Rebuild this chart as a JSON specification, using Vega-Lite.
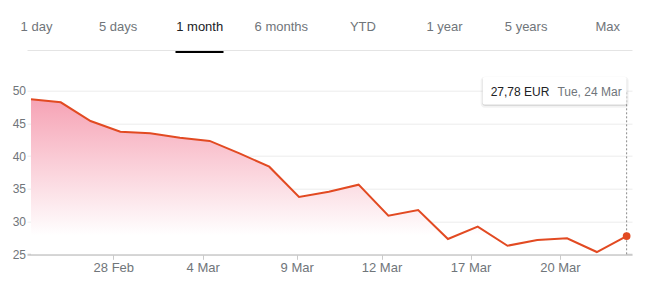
{
  "$schema": "https://vega.github.io/schema/vega-lite/v6.json",
  "width": 605,
  "height": 163.6,
  "autosize": {"type": "none"},
  "padding": {"left": 27, "top": 90.7, "right": 14, "bottom": 35.7},
  "background": "white",
  "config": {
    "view": {"stroke": null},
    "font": "Liberation Sans",
    "axisY": {"labelOverlap": false, "labelBound": false},
    "locale": {
      "number": {"decimal": ",", "thousands": ".", "grouping": [3], "currency": ["", " EUR"]},
      "time": {
        "dateTime": "%a %b %e %X %Y", "date": "%d/%m/%Y", "time": "%H:%M:%S",
        "periods": ["AM", "PM"],
        "days": ["Sunday", "Monday", "Tuesday", "Wednesday", "Thursday", "Friday", "Saturday"],
        "shortDays": ["Sun", "Mon", "Tue", "Wed", "Thu", "Fri", "Sat"],
        "months": ["January", "February", "March", "April", "May", "June", "July", "August", "September", "October", "November", "December"],
        "shortMonths": ["Jan", "Feb", "Mar", "Apr", "May", "Jun", "Jul", "Aug", "Sep", "Oct", "Nov", "Dec"]
      }
    }
  },
  "datasets": {
    "prices": [
      {"date": "2020-02-25", "day": 0, "close": 48.69},
      {"date": "2020-02-26", "day": 1, "close": 48.23},
      {"date": "2020-02-27", "day": 2, "close": 45.37},
      {"date": "2020-02-28", "day": 3, "close": 43.74},
      {"date": "2020-03-02", "day": 4, "close": 43.5},
      {"date": "2020-03-03", "day": 5, "close": 42.8},
      {"date": "2020-03-04", "day": 6, "close": 42.33},
      {"date": "2020-03-05", "day": 7, "close": 40.43},
      {"date": "2020-03-06", "day": 8, "close": 38.39},
      {"date": "2020-03-09", "day": 9, "close": 33.76},
      {"date": "2020-03-10", "day": 10, "close": 34.57},
      {"date": "2020-03-11", "day": 11, "close": 35.64},
      {"date": "2020-03-12", "day": 12, "close": 30.9},
      {"date": "2020-03-13", "day": 13, "close": 31.77},
      {"date": "2020-03-16", "day": 14, "close": 27.34},
      {"date": "2020-03-17", "day": 15, "close": 29.22},
      {"date": "2020-03-18", "day": 16, "close": 26.31},
      {"date": "2020-03-19", "day": 17, "close": 27.19},
      {"date": "2020-03-20", "day": 18, "close": 27.44},
      {"date": "2020-03-23", "day": 19, "close": 25.35},
      {"date": "2020-03-24", "day": 20, "close": 27.78}
    ],
    "tabs": [
      {"tab": "1 day"}, {"tab": "5 days"}, {"tab": "1 month"}, {"tab": "6 months"},
      {"tab": "YTD"}, {"tab": "1 year"}, {"tab": "5 years"}, {"tab": "Max"}
    ]
  },
  "layer": [
    {
      "data": {"name": "prices"},
      "encoding": {
        "x": {
          "field": "day",
          "type": "quantitative",
          "scale": {"domain": [-0.134, 20.18], "nice": false, "zero": false},
          "axis": {
            "values": [2.765, 5.765, 8.92, 11.77, 14.76, 17.76],
            "labelExpr": "datum.value < 4 ? '28 Feb' : datum.value < 7 ? '4 Mar' : datum.value < 10 ? '9 Mar' : datum.value < 13 ? '12 Mar' : datum.value < 16 ? '17 Mar' : '20 Mar'",
            "grid": false,
            "title": null,
            "domainColor": "#cacaca",
            "domainWidth": 2,
            "tickColor": "#cacaca",
            "tickSize": 5,
            "labelColor": "#70757a",
            "labelFontSize": 13,
            "labelPadding": 2,
            "labelFlush": false,
            "labelOverlap": false
          }
        },
        "y": {
          "field": "close",
          "type": "quantitative",
          "scale": {"domain": [25, 50], "nice": false, "zero": false},
          "axis": {
            "values": [25, 30, 35, 40, 45, 50],
            "tickCount": 6,
            "grid": true,
            "gridColor": "#ececec",
            "domain": false,
            "ticks": false,
            "title": null,
            "labelPadding": 1.5,
            "labelColor": "#70757a",
            "labelFontSize": 12,
            "labelOverlap": false,
            "labelBound": false
          }
        }
      },
      "layer": [
        {
          "mark": {
            "type": "area",
            "fill": {
              "gradient": "linear",
              "x1": 0, "y1": 0, "x2": 0, "y2": 1,
              "stops": [
                {"offset": 0, "color": "#f6a3b5"},
                {"offset": 0.88, "color": "#ffffff"}
              ]
            }
          },
          "encoding": {"y2": {"datum": 25}}
        },
        {
          "mark": {"type": "line", "color": "#e24a22", "strokeWidth": 2}
        },
        {
          "transform": [{"filter": "datum.day == 20"}],
          "mark": {"type": "rule", "color": "#8a8a8a", "strokeWidth": 1, "strokeDash": [2, 2]},
          "encoding": {"y": {"datum": 25}, "y2": {"datum": 50}}
        },
        {
          "transform": [{"filter": "datum.day == 20"}],
          "mark": {"type": "point", "filled": true, "color": "#e24a22", "size": 60, "opacity": 1}
        },
        {
          "transform": [{"filter": "datum.day == 20"}],
          "mark": {"type": "rect", "width": 148, "height": 31, "xOffset": -72, "yOffset": 1.5, "fill": "#000000", "fillOpacity": 0.05, "cornerRadius": 4},
          "encoding": {"y": {"datum": 50}}
        },
        {
          "transform": [{"filter": "datum.day == 20"}],
          "mark": {"type": "rect", "width": 145, "height": 28.5, "xOffset": -72, "yOffset": 1, "fill": "#000000", "fillOpacity": 0.1, "cornerRadius": 3},
          "encoding": {"y": {"datum": 50}}
        },
        {
          "transform": [{"filter": "datum.day == 20"}],
          "mark": {"type": "rect", "width": 144, "height": 27.4, "xOffset": -72, "fill": "#ffffff", "cornerRadius": 2},
          "encoding": {"y": {"datum": 50}}
        },
        {
          "transform": [{"filter": "datum.day == 20"}],
          "mark": {"type": "text", "align": "left", "baseline": "middle", "dx": -136, "dy": 1, "fontSize": 12, "color": "#202124"},
          "encoding": {
            "y": {"datum": 50},
            "text": {"field": "close", "type": "quantitative", "format": "$.2f"}
          }
        },
        {
          "transform": [{"filter": "datum.day == 20"}],
          "mark": {"type": "text", "align": "right", "baseline": "middle", "dx": -5, "dy": 1, "fontSize": 12, "color": "#70757a"},
          "encoding": {
            "y": {"datum": 50},
            "text": {"field": "date", "type": "temporal", "timeUnit": "utcyearmonthdate", "format": "%a, %-d %b"}
          }
        }
      ]
    },
    {
      "data": {"name": "tabs"},
      "mark": {"type": "point", "opacity": 0},
      "encoding": {
        "x": {
          "field": "tab",
          "type": "nominal",
          "sort": null,
          "scale": {"type": "point", "padding": 0.207, "align": 0.266},
          "axis": {
            "orient": "top",
            "offset": 40.7,
            "title": null,
            "grid": false,
            "labelAngle": 0,
            "domainColor": "#e4e4e4",
            "domainWidth": 1,
            "tickSize": -2.5,
            "tickWidth": 48,
            "tickColor": {"condition": {"test": "datum.value === '1 month'", "value": "#000000"}, "value": "transparent"},
            "labelFontSize": 13,
            "labelPadding": 19,
            "labelColor": {"condition": {"test": "datum.value === '1 month'", "value": "#202124"}, "value": "#70757a"}
          }
        }
      }
    }
  ],
  "resolve": {"scale": {"x": "independent"}, "axis": {"x": "independent"}}
}
